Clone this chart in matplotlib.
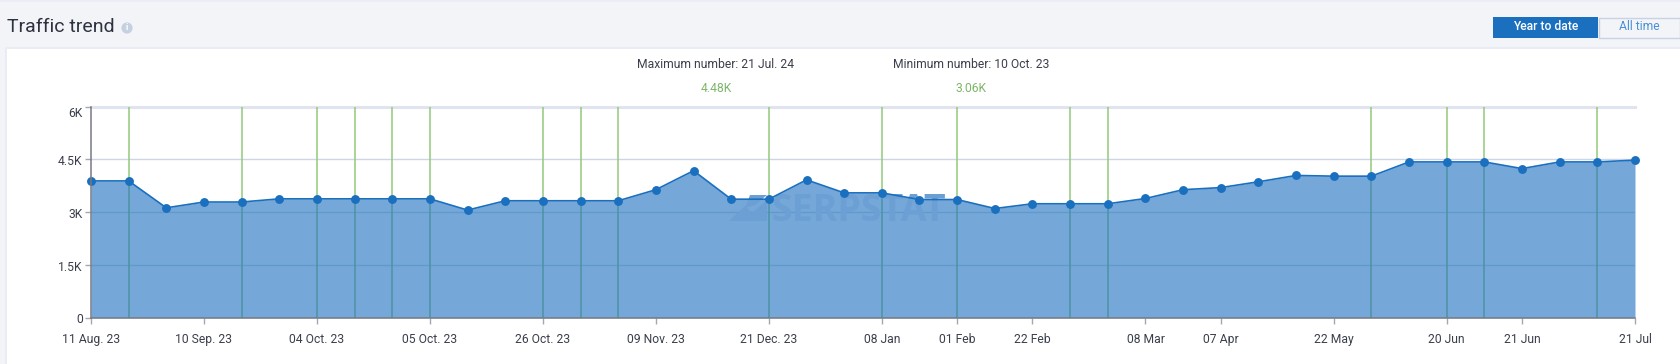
import matplotlib
matplotlib.use("Agg")
import matplotlib.pyplot as plt
from matplotlib.patches import Rectangle, Circle, Polygon
from matplotlib.transforms import ScaledTranslation

plt.rcParams['font.family'] = ['Roboto', 'DejaVu Sans']

values = [3890, 3890, 3125, 3290, 3290, 3380, 3380, 3380, 3380, 3380, 3060, 3325, 3325, 3325,
          3325, 3640, 4180, 3370, 3370, 3920, 3550, 3550, 3360, 3360, 3105, 3240, 3240, 3240,
          3390, 3640, 3700, 3865, 4045, 4025, 4025, 4430, 4430, 4430, 4240, 4430, 4430, 4480]
update_idx = [1, 4, 6, 7, 8, 9, 12, 13, 14, 18, 21, 23, 26, 27, 34, 36, 37, 40]
tick_idx = [0, 3, 6, 9, 12, 15, 18, 21, 23, 25, 28, 30, 33, 36, 38, 41]
tick_labels = ['11 Aug. 23', '10 Sep. 23', '04 Oct. 23', '05 Oct. 23', '26 Oct. 23', '09 Nov. 23',
               '21 Dec. 23', '08 Jan', '01 Feb', '22 Feb', '08 Mar', '07 Apr', '22 May',
               '20 Jun', '21 Jun', '21 Jul']
y_ticks = [0, 1500, 3000, 4500, 6000]
y_labels = ['0', '1.5K', '3K', '4.5K', '6K']

W, H = 1680, 364
BG = '#f3f4f8'
BLUE = '#1a6fbf'
TXT = '#3a3f4b'
fig = plt.figure(figsize=(W / 100, H / 100), dpi=100, facecolor=BG)

# page layer in pixel coordinates
bgax = fig.add_axes([0, 0, 1, 1], zorder=0)
bgax.set_xlim(0, W); bgax.set_ylim(H, 0); bgax.axis('off')
bgax.add_patch(Rectangle((0, 0), W, 2, fc='#eceef5', ec='none'))
bgax.add_patch(Rectangle((5, 47), W, H, fc='#e9ebf5', ec='none'))
bgax.add_patch(Rectangle((7, 49), W, H, fc='white', ec='none'))
bgax.text(7, 27.5, 'Traffic trend', fontsize=14, color='#2e3240', va='center', ha='left')
bgax.add_patch(Circle((127, 28), 5.6, fc='#c5d0e0', ec='none'))
bgax.text(127, 28, 'i', fontsize=6.5, color='white', va='center', ha='center', fontweight='bold')
bgax.add_patch(Rectangle((1493, 17), 105, 21, fc=BLUE, ec='none'))
bgax.add_patch(Rectangle((1598.5, 17.5), 81, 20, fc=BG, ec='#c9d1e2', lw=1))
bgax.text(1545.5, 27, 'Year to date', fontsize=8.7, color='white', va='center', ha='center', fontweight='medium')
bgax.text(1639, 27, 'All time', fontsize=8.7, color='#4a90d6', va='center', ha='center')
for cx, head, val in [(716, 'Maximum number: 21 Jul. 24', '4.48K'),
                      (971, 'Minimum number: 10 Oct. 23', '3.06K')]:
    bgax.text(cx, 64, head, fontsize=8.7, color=TXT, va='center', ha='center')
    bgax.text(cx, 88, val, fontsize=8.7, color='#7cb668', va='center', ha='center')

# chart
L, R, T, B = 91, 1635, 106.7, 317.7
ax = fig.add_axes([L / W, 1 - B / H, (R - L) / W, (B - T) / H], zorder=1)
ax.patch.set_alpha(0)
x = list(range(len(values)))
ax.set_xlim(0, len(values) - 1)
ax.set_ylim(0, 6000)
for v in y_ticks[1:-1]:
    ax.axhline(v, color='#ccd6e6', lw=1.0, zorder=1)
ax.axhline(6000, color='#e0e4f1', lw=2.2, zorder=1, clip_on=False)
ax.vlines(update_idx, 0, 6000, color='#93c97a', lw=1.1, zorder=2)
ax.fill_between(x, 0, values, color=BLUE, alpha=0.6, lw=0, zorder=3)

# watermark between the area and the line, placed in page pixels
wm = '#6c9fd4'
page = bgax.transData
ax.text(771, 221, 'SERPSTAT', fontsize=27, fontweight='bold', color=wm, va='baseline', ha='left',
        fontfamily=['Open Sans', 'DejaVu Sans'], zorder=3.5, transform=page, clip_on=False)
ax.add_patch(Polygon([(730, 195), (767, 195), (755, 205), (745, 208), (750, 195)], fc=wm, ec='none',
                     zorder=3.5, transform=page))
ax.add_patch(Polygon([(729, 221), (745, 206), (752, 213), (767, 200), (767, 221)], fc=wm, ec='none',
                     zorder=3.5, transform=page))

ax.plot(x, values, color=BLUE, lw=1.2, zorder=4)
ax.plot(x, values, ls='none', marker='o', ms=6.4, mfc=BLUE, mec=BLUE, mew=0, zorder=5, clip_on=False)

for s in ('top', 'right'):
    ax.spines[s].set_visible(False)
for s in ('left', 'bottom'):
    ax.spines[s].set_color('#767a85')
    ax.spines[s].set_linewidth(1.1)
    ax.spines[s].set_zorder(6)
ax.set_xticks(tick_idx, tick_labels)
ax.set_yticks(y_ticks, y_labels)
ax.tick_params(axis='x', length=4.5, width=1, color='#a5a8af', labelsize=8.7, labelcolor=TXT, pad=6.8)
ax.tick_params(axis='y', length=4.5, width=1, color='#a5a8af', labelsize=8.7, labelcolor=TXT, pad=1.5)
# the 6K label sits a few pixels below its tick; the others about one
for lab, dy in zip(ax.get_yticklabels(), [0, 1, 1, 1, 5]):
    lab.set_transform(lab.get_transform() + ScaledTranslation(0, -dy / 100, fig.dpi_scale_trans))

fig.savefig('out.png', dpi=100, facecolor=BG)
